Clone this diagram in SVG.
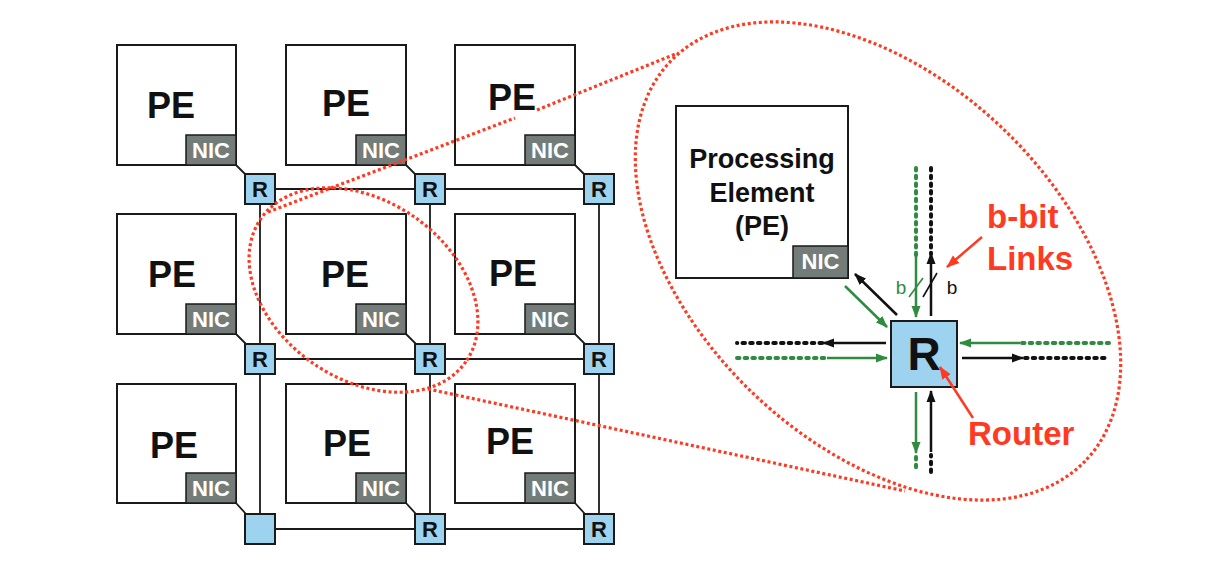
<svg xmlns="http://www.w3.org/2000/svg" width="1217" height="564" viewBox="0 0 1217 564">
<style>
.pe{fill:#fff;stroke:#1a1a1a;stroke-width:2}
.nic{fill:#747c79;stroke:#1a1a1a;stroke-width:1.5}
.rt{fill:#9ed3ef;stroke:#1a1a1a;stroke-width:2}
.pet{font-family:"Liberation Sans",Arial,sans-serif;font-weight:bold;font-size:36px;fill:#111;text-anchor:middle}
.nict{font-family:"Liberation Sans",Arial,sans-serif;font-weight:bold;font-size:22px;fill:#fff;text-anchor:middle}
.rtt{font-family:"Liberation Sans",Arial,sans-serif;font-weight:bold;font-size:22px;fill:#111;text-anchor:middle}
.grid{stroke:#1a1a1a;stroke-width:1.8;fill:none}
.red{fill:none;stroke:#ff3a22;stroke-width:3.2;stroke-dasharray:3 2.6}
.sk{stroke:#111;stroke-width:2.5;fill:none}
.sg{stroke:#2e8b3f;stroke-width:2.5;fill:none}
.dk{stroke:#111;stroke-width:4;stroke-linecap:round;stroke-dasharray:2.5 5.2;fill:none}
.dg{stroke:#2e8b3f;stroke-width:4;stroke-linecap:round;stroke-dasharray:2.5 5.2;fill:none}
.lbl{font-family:"Liberation Sans",Arial,sans-serif;font-weight:bold;fill:#ff3a22}
.bt{font-family:"Liberation Sans",Arial,sans-serif;font-size:19px;text-anchor:middle}
</style>
<defs>
<marker id="ak" markerUnits="userSpaceOnUse" markerWidth="13" markerHeight="10" refX="11" refY="5" orient="auto"><path d="M0,0.5 L12,5 L0,9.5 z" fill="#111"/></marker>
<marker id="ag" markerUnits="userSpaceOnUse" markerWidth="13" markerHeight="10" refX="11" refY="5" orient="auto"><path d="M0,0.5 L12,5 L0,9.5 z" fill="#2e8b3f"/></marker>
<marker id="ar" markerUnits="userSpaceOnUse" markerWidth="14" markerHeight="11" refX="12" refY="5.5" orient="auto"><path d="M0,0.5 L13,5.5 L0,10.5 z" fill="#ff3a22"/></marker>
</defs>
<rect width="1217" height="564" fill="#fff"/>

<g id="grid-links" class="grid">
<line x1="260" y1="189" x2="599" y2="189"/>
<line x1="260" y1="359" x2="599" y2="359"/>
<line x1="260" y1="529" x2="599" y2="529"/>
<line x1="260" y1="189" x2="260" y2="529"/>
<line x1="430" y1="189" x2="430" y2="529"/>
<line x1="599" y1="189" x2="599" y2="529"/>
<line x1="236" y1="165" x2="246" y2="175"/>
<line x1="406" y1="165" x2="416" y2="175"/>
<line x1="575" y1="165" x2="585" y2="175"/>
<line x1="236" y1="334" x2="246" y2="344"/>
<line x1="406" y1="334" x2="416" y2="344"/>
<line x1="575" y1="334" x2="585" y2="344"/>
<line x1="236" y1="503" x2="246" y2="514"/>
<line x1="406" y1="503" x2="416" y2="514"/>
<line x1="575" y1="503" x2="585" y2="514"/>
</g>

<g id="pe11"><rect class="pe" x="117" y="45" width="119" height="120"/><rect class="nic" x="186" y="135" width="50" height="30"/><text class="pet" x="171" y="118">PE</text><text class="nict" x="211" y="158">NIC</text></g>
<g id="pe12"><rect class="pe" x="286" y="45" width="120" height="120"/><rect class="nic" x="356" y="135" width="50" height="30"/><text class="pet" x="346" y="116">PE</text><text class="nict" x="381" y="158">NIC</text></g>
<g id="pe13"><rect class="pe" x="455" y="45" width="120" height="120"/><rect class="nic" x="525" y="135" width="50" height="30"/><text class="pet" x="512" y="110">PE</text><text class="nict" x="550" y="158">NIC</text></g>
<g id="pe21"><rect class="pe" x="117" y="214" width="119" height="120"/><rect class="nic" x="186" y="304" width="50" height="30"/><text class="pet" x="172" y="287">PE</text><text class="nict" x="211" y="327">NIC</text></g>
<g id="pe22"><rect class="pe" x="286" y="214" width="120" height="120"/><rect class="nic" x="356" y="304" width="50" height="30"/><text class="pet" x="345" y="287">PE</text><text class="nict" x="381" y="327">NIC</text></g>
<g id="pe23"><rect class="pe" x="455" y="214" width="120" height="120"/><rect class="nic" x="525" y="304" width="50" height="30"/><text class="pet" x="513" y="286">PE</text><text class="nict" x="550" y="327">NIC</text></g>
<g id="pe31"><rect class="pe" x="117" y="384" width="119" height="119"/><rect class="nic" x="186" y="473" width="50" height="30"/><text class="pet" x="174" y="458">PE</text><text class="nict" x="211" y="496">NIC</text></g>
<g id="pe32"><rect class="pe" x="286" y="384" width="120" height="119"/><rect class="nic" x="356" y="473" width="50" height="30"/><text class="pet" x="347" y="456">PE</text><text class="nict" x="381" y="496">NIC</text></g>
<g id="pe33"><rect class="pe" x="455" y="384" width="120" height="119"/><rect class="nic" x="525" y="473" width="50" height="30"/><text class="pet" x="510" y="454">PE</text><text class="nict" x="550" y="496">NIC</text></g>

<g id="r11"><rect class="rt" x="245" y="174" width="30" height="30"/><text class="rtt" x="260" y="197">R</text></g>
<g id="r12"><rect class="rt" x="415" y="174" width="30" height="30"/><text class="rtt" x="430" y="197">R</text></g>
<g id="r13"><rect class="rt" x="584" y="174" width="30" height="30"/><text class="rtt" x="599" y="197">R</text></g>
<g id="r21"><rect class="rt" x="245" y="344" width="30" height="30"/><text class="rtt" x="260" y="367">R</text></g>
<g id="r22"><rect class="rt" x="415" y="344" width="30" height="30"/><text class="rtt" x="430" y="367">R</text></g>
<g id="r23"><rect class="rt" x="584" y="344" width="30" height="30"/><text class="rtt" x="599" y="367">R</text></g>
<g id="r31"><rect class="rt" x="245" y="514" width="30" height="30"/></g>
<g id="r32"><rect class="rt" x="415" y="514" width="30" height="30"/><text class="rtt" x="430" y="537">R</text></g>
<g id="r33"><rect class="rt" x="584" y="514" width="30" height="30"/><text class="rtt" x="599" y="537">R</text></g>

<g id="callout">
<ellipse class="red" cx="363.5" cy="290" rx="125" ry="89" transform="rotate(35 363.5 290)"/>
<ellipse class="red" cx="878" cy="261" rx="288" ry="182" transform="rotate(44 878 261)"/>
<line class="red" x1="268" y1="212" x2="515" y2="118"/>
<line class="red" x1="537" y1="110" x2="678" y2="53"/>
<line class="red" x1="428" y1="389" x2="905" y2="491"/>
</g>

<g id="detail-pe">
<rect class="pe" x="676" y="106" width="172" height="172"/>
<rect class="nic" x="793" y="246" width="55" height="32"/>
<text font-family="Liberation Sans, Arial, sans-serif" font-weight="bold" font-size="27" fill="#111" text-anchor="middle"><tspan x="762" y="168">Processing</tspan><tspan x="762" y="202">Element</tspan><tspan x="762" y="235">(PE)</tspan></text>
<text class="nict" x="820.5" y="269">NIC</text>
</g>

<g id="detail-links">
<line class="dg" x1="916" y1="168" x2="916" y2="256"/>
<line class="sg" x1="916" y1="257" x2="916" y2="317" marker-end="url(#ag)"/>
<line class="dk" x1="931" y1="168" x2="931" y2="254"/>
<line class="sk" x1="931" y1="316" x2="931" y2="253" marker-end="url(#ak)"/>
<line class="sg" x1="916" y1="392" x2="916" y2="453" marker-end="url(#ag)"/>
<line class="dg" x1="916" y1="457" x2="916" y2="472"/>
<line class="dk" x1="931" y1="472" x2="931" y2="455"/>
<line class="sk" x1="931" y1="452" x2="931" y2="391" marker-end="url(#ak)"/>
<line class="sk" x1="886" y1="343" x2="823" y2="343" marker-end="url(#ak)"/>
<line class="dk" x1="822" y1="343" x2="737" y2="343"/>
<line class="dg" x1="737" y1="358" x2="826" y2="358"/>
<line class="sg" x1="827" y1="358" x2="887" y2="358" marker-end="url(#ag)"/>
<line class="sg" x1="1020" y1="343" x2="960" y2="343" marker-end="url(#ag)"/>
<line class="dg" x1="1022" y1="343" x2="1109" y2="343"/>
<line class="sk" x1="962" y1="358" x2="1023" y2="358" marker-end="url(#ak)"/>
<line class="dk" x1="1025" y1="358" x2="1109" y2="358"/>
<line class="sg" x1="845" y1="286" x2="887" y2="327" marker-end="url(#ag)"/>
<line class="sk" x1="897" y1="315" x2="855" y2="274" marker-end="url(#ak)"/>
<line x1="909" y1="297" x2="923" y2="278" stroke="#2e8b3f" stroke-width="1.6"/>
<line x1="923" y1="297" x2="937" y2="273" stroke="#111" stroke-width="1.6"/>
<text class="bt" x="901" y="294" fill="#2e8b3f">b</text>
<text class="bt" x="952" y="294" fill="#111">b</text>
</g>

<g id="detail-router">
<rect class="rt" x="891" y="321" width="66" height="66"/>
<text font-family="Liberation Sans, Arial, sans-serif" font-weight="bold" font-size="46" fill="#111" text-anchor="middle" x="924" y="370">R</text>
</g>

<g id="annotations">
<line x1="982" y1="237" x2="947" y2="267" stroke="#ff3a22" stroke-width="2.5" marker-end="url(#ar)"/>
<line x1="973" y1="418" x2="940" y2="367" stroke="#ff3a22" stroke-width="2.5" marker-end="url(#ar)"/>
<text class="lbl" font-size="33" x="987" y="228">b-bit</text>
<text class="lbl" font-size="33" x="987" y="270">Links</text>
<text class="lbl" font-size="33" x="968" y="445">Router</text>
</g>
</svg>
